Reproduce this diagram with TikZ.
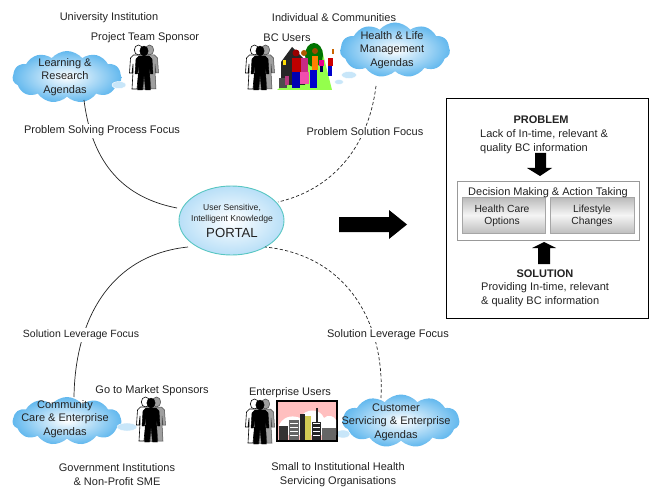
\documentclass[tikz,border=0pt]{standalone}
\usepackage{fontspec}
\setmainfont{Liberation Sans}
\usetikzlibrary{shapes.symbols,shapes.geometric}
\definecolor{ink}{HTML}{222222}
\definecolor{sky}{HTML}{62B8EE}
\definecolor{teal}{HTML}{58C6C2}
\tikzset{
 txt/.style={font=\fontsize{11}{13.5}\selectfont,inner sep=0pt,align=center,text=ink,yshift=-1pt},
 cloudy/.style={cloud,cloud puffs=11,cloud puff arc=100,aspect=2,inner sep=0pt,shade,inner color=white,middle color=white!35!sky,outer color=sky,draw=none},
 puff/.style={ellipse,inner sep=0pt,fill=sky!35,draw=white},
 link/.style={draw=ink,line width=0.7pt},
 dlink/.style={draw=ink,line width=0.7pt,dash pattern=on 3.2pt off 2.2pt},
 opt/.style={draw=gray!70,line width=0.5pt,top color=gray!55,bottom color=gray!50,middle color=gray!8,inner sep=0pt},
 pics/person/.style={code={
   \path[pic actions] (0,-17) circle (4.2 and 5);
   \path[pic actions] (-5,-12) -- (5,-12) -- (8,-9) -- (9,6) -- (6.5,6) -- (5.5,-3) -- (5.5,5) -- (6.5,22) -- (1.5,22) -- (0,6) -- (-1.5,22) -- (-6.5,22) -- (-5.5,5) -- (-5.5,-3) -- (-6.5,6) -- (-9,6) -- (-8,-9) -- cycle;
 }},
 pics/trio/.style={code={
   \pic[draw=black,fill=white,line width=0.6pt] at (-5.5,-1) {person};
   \pic[draw=black!70,fill=gray!75,line width=0.5pt] at (5.5,-1) {person};
   \pic[draw=black,fill=black] at (0,0) {person};
 }}
}
\begin{document}
\begin{tikzpicture}[x=1pt,y=-1pt]
\useasboundingbox (0,0) rectangle (649,487);

% clouds
\node[cloudy,minimum width=109pt,minimum height=52pt] (c1) at (67,77) {};
\node[cloudy,minimum width=110pt,minimum height=55pt] (c2) at (395,50) {};
\node[cloudy,minimum width=109pt,minimum height=48pt] (c3) at (67,421) {};
\node[cloudy,minimum width=117pt,minimum height=53pt] (c4) at (401,421) {};

% portal
\node[ellipse,draw=teal,line width=0.9pt,inner color=white,outer color=sky!45,minimum width=105pt,minimum height=69pt,inner sep=0pt] (portal) at (231.5,220.5) {};
\node[txt,font=\fontsize{8.6}{11.2}\selectfont] (ptxt) at (232,212.5) {User Sensitive,\\Intelligent Knowledge};
\node[txt,font=\fontsize{13.2}{15}\selectfont] (ptxt2) at (232,232) {PORTAL};

% connectors
\coordinate (pa) at (177,208);
\coordinate (pb) at (278,202);
\coordinate (pc) at (188,247);
\coordinate (pd) at (265,247);
\coordinate (ca) at (84,100);
\coordinate (cb) at (376,86);
\coordinate (cc) at (74,397);
\coordinate (cd) at (381,398);
\draw[link] (ca) .. controls (92,165) and (125,198) .. (pa);
\draw[dlink] (cb) .. controls (368,150) and (330,190) .. (pb);
\draw[link] (cc) .. controls (75,320) and (110,255) .. (pc);
\draw[dlink] (cd) .. controls (385,320) and (345,255) .. (pd);

% labels on connectors
\node[txt,fill=white,inner ysep=2pt] (l1) at (102,130) {Problem Solving Process Focus};
\node[txt,fill=white,inner ysep=2pt] (l2) at (365,131) {Problem Solution Focus};
\node[txt,fill=white,inner ysep=2pt,font=\fontsize{10.5}{13}\selectfont] (l3) at (81,334) {Solution Leverage Focus};
\node[txt,fill=white,inner ysep=2pt] (l4) at (388,334) {Solution Leverage Focus};

% thought bubbles
\node[puff,minimum width=14pt,minimum height=7pt] (b1) at (119,85) {};
\node[puff,minimum width=15pt,minimum height=7pt] (b2) at (349,75) {};
\node[puff,minimum width=9pt,minimum height=5pt] (b2b) at (339,82) {};
\node[puff,minimum width=20pt,minimum height=8pt] (b3) at (127,427) {};
\node[puff,minimum width=14pt,minimum height=8pt] (b4) at (343,434) {};

% people
\pic at (144,68) {trio};
\pic at (260,68) {trio};
\pic at (151,420) {trio};
\pic at (260,422) {trio};

% community clip art
\fill[green!60!yellow!70!white] (277,90) -- (300,72) -- (312,45) -- (322,50) -- (332,90) -- cycle;
\fill[black!85] (281,62) -- (292,47) -- (305,60) -- (305,85) -- (281,85) -- cycle;
\fill[yellow!80!orange] (283,60) rectangle (286,65);
\fill[green!45!black] (314,55) circle (9 and 12);
\fill[red!75!black] (292,58) rectangle (301,72);
\fill[blue!70!black] (292,72) rectangle (300,88);
\fill[red!60!black] (296,53) circle (3.5);
\fill[magenta!80!black] (301,58) rectangle (308,72);
\fill[magenta!70!white] (300,72) rectangle (309,84);
\fill[orange!70!black] (304,53) circle (3);
\fill[orange] (312,56) rectangle (318,70);
\fill[blue!80!black] (310,70) rectangle (317,88);
\fill[orange!60!black] (315,51) circle (3);
\fill[magenta] (319,60) rectangle (324,66);
\fill[black!70!blue] (320,66) rectangle (323,72);
\fill[red!80!black] (328,58) rectangle (333,66);
\fill[blue!80!black] (328,66) rectangle (332,76);
\fill[orange!80!black] (332,49) rectangle (334,54);
\fill[black!70] (279,78) rectangle (287,88);
\fill[magenta!70!black] (285,76) rectangle (289,85);

% city picture
\node[draw=black,line width=1.4pt,fill=red!25!white,minimum width=60pt,minimum height=40pt,inner sep=0pt] (city) at (307,421) {};
\fill[white] (279,425) .. controls (285,414) and (295,416) .. (300,418) .. controls (305,408) and (320,408) .. (324,418) .. controls (328,414) and (334,416) .. (336,420) -- (336,435) -- (279,435) -- cycle;
\fill[black!80] (279,426) rectangle (288,440);
\fill[black!60] (289,420) rectangle (299,440);
\fill[black!85] (300,414) rectangle (305,440);
\fill[yellow!60!gray] (305,416) rectangle (311,440);
\fill[black!85] (312,422) rectangle (321,440);
\fill[black!85] (316,408) rectangle (318,422);
\fill[black!60] (322,428) rectangle (336,440);
\foreach \yy in {423,427,...,437}{
  \draw[white,line width=0.6pt] (290,\yy) -- (298,\yy);
  \draw[white,line width=0.6pt] (313,\yy) -- (320,\yy);
}

% cloud texts
\node[txt] (t1) at (65,76) {Learning \&\\Research\\Agendas};
\node[txt] (t2) at (392,49) {Health \& Life\\Management\\Agendas};
\node[txt] (t3) at (65,418) {Community\\Care \& Enterprise\\Agendas};
\node[txt] (t4) at (396,421) {Customer\\Servicing \& Enterprise\\Agendas};

% plain texts
\node[txt] (u1) at (109,17) {University Institution};
\node[txt] (u2) at (145,37) {Project Team Sponsor};
\node[txt] (u3) at (334,17) {Individual \& Communities};
\node[txt] (u4) at (287,37) {BC Users};
\node[txt] (u5) at (152,390) {Go to Market Sponsors};
\node[txt] (u6) at (290,392) {Enterprise Users};
\node[txt] (u7) at (117,473.5) {Government Institutions\\\& Non-Profit SME};
\node[txt] (u8) at (338,473.5) {Small to Institutional Health\\Servicing Organisations};

% big arrow
\fill[black] (339,217) -- (389,217) -- (389,210) -- (407,224.5) -- (389,239) -- (389,232) -- (339,232) -- cycle;

% right panel
\node[draw=black,line width=0.8pt,minimum width=202pt,minimum height=220pt,inner sep=0pt] (panel) at (547,208) {};
\node[draw=gray!80,line width=0.6pt,minimum width=182pt,minimum height=59pt,inner sep=0pt] (inner) at (548,210.5) {};
\node[opt,minimum width=83pt,minimum height=36pt] (o1) at (503.5,215) {};
\node[opt,minimum width=84pt,minimum height=36pt] (o2) at (592,215) {};
\node[txt,font=\fontsize{11}{13}\selectfont\bfseries] (p1) at (541,119) {PROBLEM};
\node[txt,align=left,anchor=west] (p2) at (480,140.5) {Lack of In-time, relevant \&\\quality BC information};
\node[txt] (p3) at (548,192) {Decision Making \& Action Taking};
\node[txt,font=\fontsize{10.3}{12}\selectfont] (p4) at (502,215) {Health Care\\Options};
\node[txt,font=\fontsize{10.3}{12}\selectfont] (p5) at (592,215) {Lifestyle\\Changes};
\node[txt,font=\fontsize{11}{13}\selectfont\bfseries] (p6) at (545,273) {SOLUTION};
\node[txt,align=left,anchor=west] (p7) at (481,293.5) {Providing In-time, relevant\\\& quality BC information};
\fill[black] (535,153) -- (546,153) -- (546,168) -- (552,168) -- (540,176) -- (527,168) -- (535,168) -- cycle;
\fill[black] (538,264) -- (550,264) -- (550,248) -- (556,248) -- (544,242) -- (532,248) -- (538,248) -- cycle;
\end{tikzpicture}
\end{document}
